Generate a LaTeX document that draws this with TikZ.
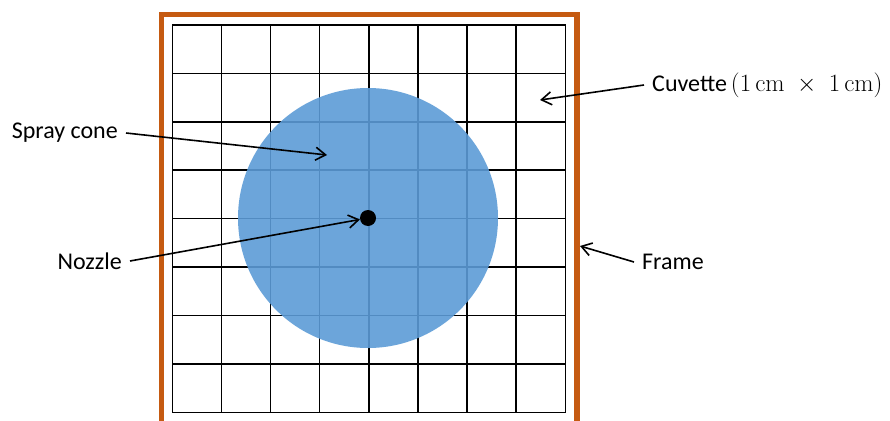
\documentclass[tikz,border=0pt]{standalone}
\usepackage[no-math]{fontspec}
\setmainfont{Carlito}
\usetikzlibrary{arrows.meta}
\definecolor{frameorange}{RGB}{197,90,17}
\definecolor{coneblue}{RGB}{92,155,214}

\begin{document}
\begin{tikzpicture}[
    x=1pt, y=-1pt,
    >={Straight Barb[length=10pt,width=13pt]},
    every node/.style={font=\fontsize{24}{28}\selectfont},
    frameline/.style={draw=frameorange, line width=5.5pt},
    gridline/.style={draw=black, line width=1.5pt, line cap=rect},
    cone/.style={circle, fill=coneblue, fill opacity=0.9, minimum size=260pt, inner sep=0pt},
    nozzledot/.style={circle, fill=black, minimum size=16pt, inner sep=0pt},
    tag/.style={inner sep=8pt},
    pointer/.style={->, line width=1.6pt}
]
\useasboundingbox (0,0) rectangle (890,420);

% cuvette grid, 8 x 8
\foreach \i in {0,...,8} {
    \draw[gridline] ({172.3+49.125*\i},25) -- ({172.3+49.125*\i},412.3);
    \draw[gridline] (172.3,{25+48.41*\i}) -- (565.3,{25+48.41*\i});
}

% frame (runs off the bottom)
\draw[frameline] (161.5,14.5) rectangle (577,432);

\node[cone] (cone) at (368,218) {};
\node[nozzledot] (nozzle) at (368,218) {};

\coordinate (cuvettetip) at (540,100);
\coordinate (conetip) at (327,155);
\coordinate (frametip) at (580,246);

\node[tag, anchor=west] (cuvettetext) at (644,85) {Cuvette\,$(1\,\mathrm{cm}\;\times\;1\,\mathrm{cm})$};
\node[tag, anchor=east] (spraytext) at (126,133) {Spray cone};
\node[tag, anchor=east] (nozzletext) at (130,261) {Nozzle};
\node[tag, anchor=west] (frametext) at (634,262) {Frame};

\draw[pointer] (cuvettetext.west) -- (cuvettetip);
\draw[pointer] (spraytext.east) -- (conetip);
\draw[pointer] (nozzletext.east) -- (nozzle);
\draw[pointer] (frametext.west) -- (frametip);
\end{tikzpicture}
\end{document}
